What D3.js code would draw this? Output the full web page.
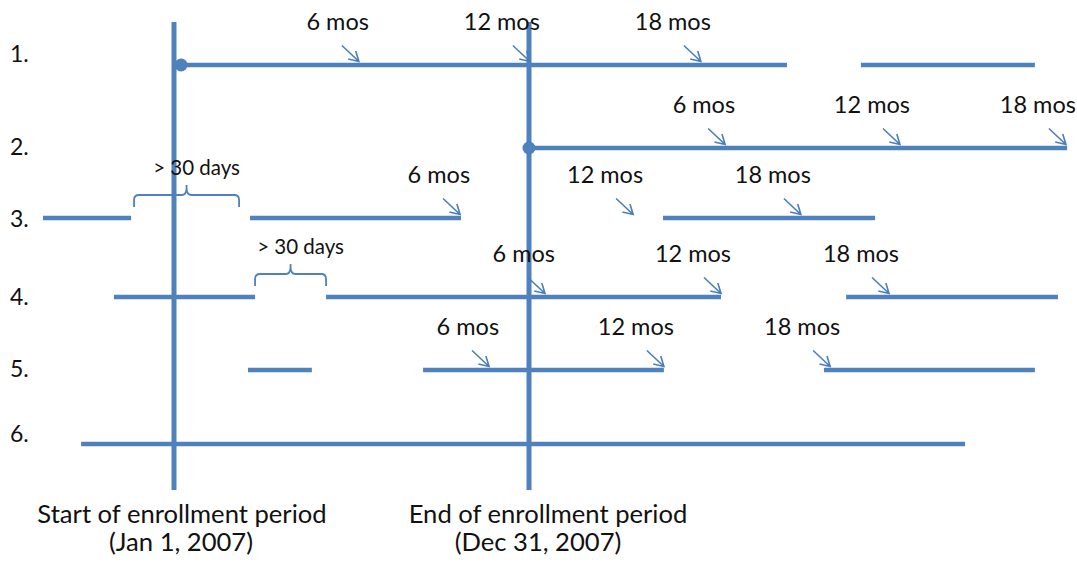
<!DOCTYPE html>
<html>
<head>
<meta charset="utf-8">
<script src="https://cdn.jsdelivr.net/npm/d3@7"></script>
<style>
  html, body { margin: 0; padding: 0; background: #fff; }
  svg { display: block; font-family: Lato, "Open Sans", sans-serif; }
</style>
</head>
<body>
<svg id="chart" width="1077" height="566"></svg>
<script>
// ---- data (months relative to Jan 1, 2007) ----
const rows = ["1.", "2.", "3.", "4.", "5.", "6."];

const segRow   = ["1.", "1.", "2.", "3.", "3.", "3.", "4.", "4.", "4.", "5.", "5.", "5.", "6."];
const segStart = [0.24, 23.22, 12.0, -4.43, 2.57, 16.53, -2.03, 5.14, 22.72, 2.50, 8.42, 21.97, -3.14];
const segEnd   = [20.72, 29.10, 30.19, -1.45, 9.70, 23.70, 2.74, 18.49, 29.88, 4.66, 16.56, 29.10, 26.74];

const dotRow   = ["1.", "2."];
const dotMonth = [0.24, 12.0];

const arrowRow   = ["1.", "1.", "1.", "2.", "2.", "2.", "3.", "3.", "3.", "4.", "4.", "4.", "5.", "5.", "5."];
const arrowMonth = [6.25, 12.03, 17.81, 18.63, 24.54, 30.15, 9.67, 15.52, 21.19, 12.54, 18.49, 24.17, 10.65, 16.56, 22.18];
const arrowLabel = ["6 mos", "12 mos", "18 mos", "6 mos", "12 mos", "18 mos", "6 mos", "12 mos", "18 mos",
                    "6 mos", "12 mos", "18 mos", "6 mos", "12 mos", "18 mos"];

const gapRow   = ["3.", "4."];
const gapStart = [-1.35, 2.74];
const gapEnd   = [2.20, 5.14];
const gapLabel = ["> 30 days", "> 30 days"];

const markerMonth  = [0, 12];
const markerLabel1 = ["Start of enrollment period", "End of enrollment period"];
const markerLabel2 = ["(Jan 1, 2007)", "(Dec 31, 2007)"];

// ---- scales ----
const blue = "#4F81BD";
const x = d3.scaleLinear().domain([0, 12]).range([174, 529]);
const y = d3.scaleOrdinal().domain(rows).range([65, 148, 218, 297, 370, 444]);
const yLabel = d3.scaleOrdinal().domain(rows).range([62, 155, 227, 305, 377, 442]);

const svg = d3.select("#chart");

// row labels
svg.append("g").selectAll("text").data(rows).join("text")
  .attr("x", 10).attr("y", d => yLabel(d))
  .attr("font-size", 23).attr("fill", "#111")
  .text(d => d);

// vertical enrollment markers
svg.append("g").selectAll("line").data(markerMonth).join("line")
  .attr("x1", d => x(d)).attr("x2", d => x(d))
  .attr("y1", 22).attr("y2", 490)
  .attr("stroke", blue).attr("stroke-width", 5);

// horizontal enrollment segments
svg.append("g").selectAll("line").data(segRow.map((r, i) => ({ r, s: segStart[i], e: segEnd[i] }))).join("line")
  .attr("x1", d => x(d.s)).attr("x2", d => x(d.e))
  .attr("y1", d => y(d.r)).attr("y2", d => y(d.r))
  .attr("stroke", blue).attr("stroke-width", 4.5);

// start dots
svg.append("g").selectAll("circle").data(dotRow.map((r, i) => ({ r, m: dotMonth[i] }))).join("circle")
  .attr("cx", d => x(d.m)).attr("cy", d => y(d.r)).attr("r", 6.5)
  .attr("fill", blue);

// milestone arrows
const arrows = arrowRow.map((r, i) => ({ r, m: arrowMonth[i], label: arrowLabel[i] }));
const ag = svg.append("g");
arrows.forEach(d => {
  const tx = x(d.m), ty = y(d.r) - 3.5;
  const sx = tx - 17, sy = ty - 16;
  const ang = Math.atan2(ty - sy, tx - sx);
  const hl = 11, spread = Math.PI / 6;
  const p1 = [tx - hl * Math.cos(ang - spread), ty - hl * Math.sin(ang - spread)];
  const p2 = [tx - hl * Math.cos(ang + spread), ty - hl * Math.sin(ang + spread)];
  ag.append("path")
    .attr("d", `M${sx},${sy}L${tx},${ty}M${p1[0]},${p1[1]}L${tx},${ty}L${p2[0]},${p2[1]}`)
    .attr("fill", "none").attr("stroke", "#4A7EBB").attr("stroke-width", 1.6)
    .attr("stroke-linejoin", "miter");
  ag.append("text")
    .attr("x", tx + 10).attr("y", y(d.r) - 35)
    .attr("text-anchor", "end").attr("font-size", 23.5).attr("fill", "#111")
    .text(d.label);
});

// gap braces
const gaps = gapRow.map((r, i) => ({ r, s: gapStart[i], e: gapEnd[i], label: gapLabel[i] }));
const bg = svg.append("g");
gaps.forEach(d => {
  const x0 = x(d.s), x1 = x(d.e), xm = (x0 + x1) / 2;
  const base = y(d.r);
  const yb = base - 11, yh = base - 23, yp = base - 33, rr = 5;
  bg.append("path")
    .attr("d", `M${x0},${yb}L${x0},${yh + rr}Q${x0},${yh} ${x0 + rr},${yh}L${xm - rr},${yh}Q${xm},${yh} ${xm},${yp + 3}L${xm},${yp}` +
               `M${xm},${yp + 3}Q${xm},${yh} ${xm + rr},${yh}L${x1 - rr},${yh}Q${x1},${yh} ${x1},${yh + rr}L${x1},${yb}`)
    .attr("fill", "none").attr("stroke", blue).attr("stroke-width", 1.8);
  bg.append("text")
    .attr("x", xm + 10).attr("y", base - 43)
    .attr("text-anchor", "middle").attr("font-size", 20.5).attr("fill", "#111")
    .text(d.label);
});

// bottom marker labels
const lbl = svg.append("g");
const off1 = [8, 19], off2 = [7, 9];
markerMonth.forEach((m, i) => {
  lbl.append("text").attr("x", x(m) + off1[i]).attr("y", 523)
    .attr("text-anchor", "middle").attr("font-size", 25.6).attr("fill", "#111").text(markerLabel1[i]);
  lbl.append("text").attr("x", x(m) + off2[i]).attr("y", 551)
    .attr("text-anchor", "middle").attr("font-size", 25.6).attr("fill", "#111").text(markerLabel2[i]);
});
</script>
</body>
</html>
